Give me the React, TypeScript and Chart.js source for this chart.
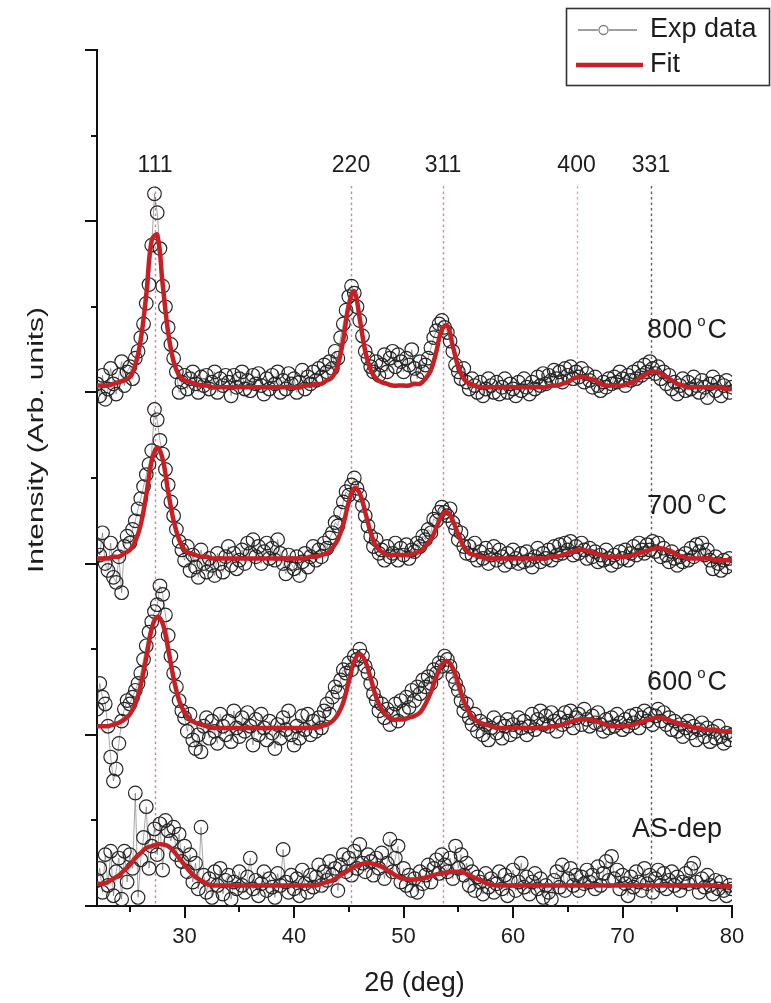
import React, { useEffect, useRef } from 'react';
import { Chart, registerables } from 'chart.js';

Chart.register(...registerables);

// ---- scan grid (2θ, degrees) ----
const EXP_START = 22;
const EXP_STEP = 0.25;
const FIT_START = 22;
const FIT_STEP = 0.5;

// ---- experimental data (intensity, stacked, arb. units) ----
const exp800 = [
  3.05,2.98,3.10,2.96, 3.02,3.14,3.05,2.99, 3.10,3.18,3.04,3.12, 3.15,3.08,3.20,3.24, 3.32,3.40,3.52,3.63,
  3.86,4.16,4.05,3.84, 3.62,3.50,3.38,3.28, 3.20,3.12,3.00,3.06, 3.10,3.02,3.08,3.12, 3.05,3.00,3.09,3.04,
  3.10,3.02,3.06,3.12, 3.00,3.08,3.04,3.10, 3.06,2.98,3.10,3.03, 3.08,3.12,3.02,3.07, 3.01,3.10,3.05,3.11,
  3.04,2.99,3.08,3.02, 3.10,3.05,3.12,3.00, 3.07,3.02,3.11,3.05, 3.08,3.00,3.06,3.13, 3.02,3.09,3.05,3.12,
  3.07,3.14,3.09,3.16, 3.12,3.18,3.14,3.24, 3.20,3.32,3.40,3.48, 3.56,3.62,3.58,3.50, 3.42,3.33,3.24,3.20,
  3.15,3.12,3.18,3.10, 3.16,3.22,3.12,3.20, 3.24,3.15,3.22,3.18, 3.12,3.20,3.16,3.25, 3.14,3.08,3.18,3.12,
  3.16,3.20,3.26,3.32, 3.36,3.40,3.42,3.38, 3.35,3.30,3.24,3.16, 3.12,3.08,3.14,3.06, 3.02,3.08,3.04,3.00,
  3.06,2.98,3.02,3.08, 3.04,3.00,3.06,2.99, 3.03,3.08,3.00,3.05, 3.02,2.98,3.06,3.01, 3.08,3.03,2.99,3.06,
  3.02,3.09,3.04,3.11, 3.05,3.10,3.07,3.13, 3.08,3.12,3.06,3.14, 3.10,3.15,3.08,3.12, 3.09,3.14,3.06,3.11,
  3.07,3.03,3.09,3.04, 3.01,3.06,3.03,3.08, 3.05,3.09,3.06,3.12, 3.08,3.04,3.10,3.07, 3.12,3.08,3.14,3.10,
  3.16,3.12,3.18,3.14, 3.11,3.15,3.08,3.12, 3.05,3.10,3.02,3.06, 2.99,3.04,3.08,3.01, 3.06,3.02,3.09,3.04,
  3.00,3.07,3.03,2.97, 3.05,3.09,3.01,3.06, 2.98,3.04,3.07,3.00, 3.03,
];

const exp700 = [
  2.10,2.05,2.18,2.00, 1.96,2.12,1.92,1.89, 2.04,1.83,2.10,2.16, 2.12,2.20,2.25,2.32, 2.38,2.45,2.52,2.58,
  2.66,2.90,2.84,2.72, 2.64,2.55,2.46,2.36, 2.28,2.20,2.13,2.08, 2.02,2.10,1.96,2.05, 1.98,1.92,2.08,2.00,
  1.95,2.03,1.99,1.93, 2.06,2.00,1.95,2.04, 2.10,1.99,2.06,1.97, 2.02,2.08,2.00,2.12, 2.06,2.14,2.04,2.10,
  2.00,2.07,2.12,2.03, 2.09,2.02,2.14,2.06, 2.00,1.94,2.05,2.00, 1.97,2.04,1.93,2.01, 2.06,1.98,2.04,2.10,
  2.02,2.08,2.04,2.12, 2.09,2.15,2.18,2.24, 2.22,2.30,2.36,2.42, 2.40,2.46,2.50,2.44, 2.40,2.34,2.28,2.22,
  2.16,2.10,2.14,2.06, 2.08,2.02,2.10,2.04, 2.06,2.12,2.02,2.09, 2.05,2.11,2.03,2.08, 2.07,2.12,2.10,2.16,
  2.14,2.20,2.18,2.26, 2.25,2.30,2.33,2.30, 2.28,2.32,2.24,2.20, 2.14,2.18,2.10,2.06, 2.10,2.05,2.12,2.02,
  2.07,2.03,2.09,2.00, 2.05,2.10,2.02,2.08, 2.04,1.99,2.06,2.01, 2.08,2.03,2.00,2.06, 2.01,2.07,2.02,1.98,
  2.04,2.09,2.01,2.06, 2.03,2.08,2.02,2.10, 2.05,2.11,2.06,2.12, 2.08,2.13,2.05,2.10, 2.06,2.12,2.08,2.03,
  2.09,2.04,2.07,2.01, 2.05,2.02,2.08,2.03, 1.99,2.05,2.01,2.07, 2.03,2.08,2.02,2.06, 2.10,2.05,2.12,2.08,
  2.06,2.11,2.08,2.13, 2.07,2.12,2.04,2.09, 2.05,2.01,2.07,2.03, 1.99,2.04,2.01,2.06, 2.02,2.09,2.04,2.11,
  2.07,2.12,2.05,2.08, 2.02,1.97,2.04,2.00, 1.96,2.02,1.98,2.03, 2.00,
];

const exp600 = [
  1.15,1.30,1.22,1.18, 1.05,0.87,0.73,0.80, 0.95,1.08,1.15,1.20, 1.18,1.22,1.26,1.30, 1.36,1.44,1.52,1.60,
  1.66,1.72,1.76,1.87, 1.82,1.70,1.58,1.46, 1.36,1.28,1.20,1.14, 1.10,1.02,1.12,0.97, 0.92,1.00,0.90,1.05,
  1.10,0.98,1.08,1.02, 0.95,1.12,1.05,1.00, 1.08,0.96,1.14,1.04, 0.99,1.10,1.02,1.13, 1.05,0.94,1.09,1.00,
  1.12,1.04,0.97,1.08, 1.01,0.92,1.06,0.98, 1.10,1.03,1.14,1.00, 0.94,1.05,0.98,1.11, 1.03,1.12,1.00,1.08,
  1.02,1.10,1.04,1.14, 1.18,1.12,1.22,1.28, 1.25,1.32,1.38,1.36, 1.42,1.38,1.46,1.44, 1.50,1.46,1.40,1.36,
  1.30,1.24,1.20,1.14, 1.18,1.10,1.15,1.06, 1.12,1.18,1.08,1.20, 1.14,1.22,1.16,1.26, 1.20,1.28,1.24,1.32,
  1.28,1.34,1.30,1.38, 1.36,1.42,1.40,1.46, 1.44,1.40,1.34,1.30, 1.26,1.20,1.14,1.18, 1.10,1.06,1.12,1.02,
  1.08,1.00,1.06,0.97, 1.04,1.10,1.01,1.07, 0.98,1.05,1.09,1.00, 1.06,1.02,1.10,1.04, 1.08,1.00,1.05,1.12,
  1.03,1.09,1.14,1.06, 1.11,1.05,1.13,1.08, 1.02,1.10,1.06,1.13, 1.08,1.14,1.04,1.10, 1.12,1.06,1.15,1.09,
  1.05,1.11,1.07,1.13, 1.06,1.02,1.09,1.04, 1.10,1.05,1.12,1.07, 1.03,1.09,1.05,1.11, 1.07,1.12,1.04,1.10,
  1.14,1.08,1.12,1.06, 1.11,1.15,1.08,1.13, 1.06,1.10,1.03,1.08, 1.02,1.06,0.99,1.04, 1.08,1.01,1.05,0.97,
  1.03,1.07,0.99,1.04, 0.96,1.02,0.98,1.05, 0.99,0.95,1.01,0.97, 1.00,
];

const expAsDep = [
  0.15,0.22,0.08,0.30, 0.12,0.32,0.06,0.20, 0.28,0.04,0.32,0.14, 0.30,0.22,0.66,0.05, 0.27,0.40,0.58,0.22,
  0.35,0.45,0.30,0.48, 0.21,0.50,0.44,0.38, 0.46,0.30,0.42,0.26, 0.35,0.20,0.30,0.14, 0.25,0.10,0.46,0.18,
  0.08,0.16,0.05,0.20, 0.12,0.22,0.07,0.15, 0.18,0.04,0.14,0.10, 0.20,0.12,0.08,0.17, 0.28,0.10,0.15,0.06,
  0.13,0.20,0.09,0.16, 0.11,0.05,0.19,0.12, 0.33,0.14,0.08,0.18, 0.10,0.16,0.06,0.21, 0.13,0.08,0.18,0.11,
  0.17,0.24,0.12,0.20, 0.15,0.26,0.18,0.22, 0.09,0.24,0.30,0.20, 0.28,0.18,0.32,0.22, 0.36,0.25,0.20,0.30,
  0.26,0.18,0.28,0.22, 0.31,0.16,0.25,0.39, 0.20,0.28,0.35,0.14, 0.22,0.12,0.18,0.09, 0.16,0.08,0.20,0.13,
  0.18,0.24,0.14,0.22, 0.27,0.19,0.30,0.24, 0.20,0.28,0.16,0.35, 0.22,0.30,0.18,0.25, 0.12,0.20,0.09,0.17,
  0.14,0.07,0.19,0.11, 0.16,0.08,0.13,0.20, 0.10,0.18,0.06,0.15, 0.21,0.09,0.14,0.25, 0.11,0.17,0.07,0.14,
  0.19,0.10,0.16,0.05, 0.12,0.08,0.04,0.15, 0.20,0.11,0.24,0.09, 0.16,0.22,0.12,0.18, 0.09,0.17,0.13,0.21,
  0.14,0.18,0.10,0.23, 0.12,0.19,0.26,0.15, 0.29,0.16,0.21,0.10, 0.18,0.13,0.06,0.17, 0.11,0.20,0.14,0.09,
  0.22,0.13,0.18,0.08, 0.16,0.21,0.12,0.19, 0.10,0.15,0.20,0.12, 0.17,0.09,0.14,0.19, 0.13,0.22,0.25,0.14,
  0.08,0.16,0.11,0.18, 0.12,0.07,0.15,0.10, 0.14,0.09,0.06,0.12, 0.10,
];

// ---- fitted curves ----
const fit800 = [
  3.04,3.04,3.04,3.05,3.06,3.07,3.09,3.16,3.31,3.57,
  3.89,3.92,3.63,3.35,3.18,3.10,3.07,3.06,3.05,3.04,
  3.04,3.03,3.03,3.03,3.03,3.03,3.03,3.03,3.03,3.03,
  3.03,3.03,3.03,3.03,3.03,3.03,3.03,3.03,3.04,3.04,
  3.05,3.05,3.07,3.09,3.16,3.31,3.51,3.59,3.43,3.24,
  3.13,3.08,3.06,3.05,3.04,3.04,3.04,3.04,3.05,3.05,
  3.08,3.13,3.24,3.37,3.39,3.27,3.15,3.08,3.05,3.04,
  3.03,3.03,3.03,3.03,3.03,3.03,3.03,3.03,3.03,3.03,
  3.03,3.03,3.03,3.04,3.04,3.05,3.06,3.08,3.09,3.09,
  3.08,3.07,3.05,3.04,3.04,3.04,3.04,3.05,3.06,3.08,
  3.10,3.12,3.12,3.11,3.09,3.07,3.05,3.04,3.03,3.03,
  3.03,3.03,3.03,3.03,3.03,3.02,3.02,
];

const fit700 = [
  2.03,2.03,2.03,2.04,2.04,2.06,2.08,2.13,2.23,2.40,
  2.60,2.68,2.61,2.42,2.25,2.14,2.08,2.06,2.05,2.04,
  2.04,2.03,2.03,2.03,2.03,2.03,2.03,2.03,2.03,2.03,
  2.03,2.03,2.03,2.03,2.03,2.03,2.03,2.03,2.03,2.04,
  2.04,2.05,2.06,2.09,2.14,2.23,2.36,2.44,2.41,2.30,
  2.18,2.10,2.07,2.05,2.05,2.05,2.05,2.05,2.06,2.07,
  2.10,2.14,2.21,2.28,2.30,2.25,2.17,2.10,2.06,2.05,
  2.04,2.03,2.03,2.03,2.03,2.03,2.03,2.03,2.03,2.03,
  2.03,2.03,2.03,2.04,2.04,2.05,2.06,2.07,2.08,2.08,
  2.07,2.06,2.05,2.04,2.04,2.04,2.04,2.04,2.05,2.06,
  2.07,2.08,2.09,2.09,2.08,2.07,2.05,2.04,2.03,2.03,
  2.03,2.03,2.03,2.02,2.02,2.02,2.02,
];

const fit600 = [
  1.05,1.05,1.05,1.06,1.07,1.09,1.12,1.18,1.29,1.45,
  1.62,1.69,1.65,1.50,1.33,1.20,1.13,1.09,1.07,1.06,
  1.05,1.04,1.04,1.04,1.04,1.04,1.04,1.04,1.04,1.04,
  1.04,1.04,1.04,1.04,1.04,1.04,1.04,1.04,1.04,1.04,
  1.04,1.05,1.06,1.08,1.12,1.19,1.31,1.43,1.47,1.43,
  1.33,1.22,1.15,1.11,1.09,1.09,1.09,1.10,1.11,1.13,
  1.18,1.25,1.34,1.41,1.43,1.39,1.30,1.20,1.13,1.09,
  1.07,1.06,1.05,1.04,1.04,1.04,1.04,1.04,1.04,1.04,
  1.04,1.04,1.04,1.05,1.05,1.06,1.07,1.08,1.09,1.09,
  1.09,1.08,1.07,1.06,1.05,1.05,1.05,1.05,1.06,1.07,
  1.08,1.09,1.10,1.10,1.09,1.08,1.07,1.06,1.05,1.04,
  1.04,1.03,1.03,1.03,1.02,1.02,1.02,
];

const fitAsDep = [
  0.13,0.13,0.14,0.16,0.18,0.21,0.24,0.28,0.31,0.34,
  0.35,0.36,0.36,0.35,0.32,0.28,0.24,0.20,0.17,0.15,
  0.13,0.12,0.12,0.12,0.12,0.12,0.12,0.12,0.12,0.12,
  0.12,0.12,0.12,0.12,0.12,0.12,0.12,0.12,0.12,0.12,
  0.12,0.13,0.14,0.15,0.17,0.19,0.21,0.23,0.24,0.25,
  0.25,0.24,0.23,0.21,0.19,0.17,0.16,0.155,0.155,0.16,
  0.165,0.175,0.185,0.19,0.195,0.20,0.20,0.195,0.18,0.165,
  0.15,0.135,0.125,0.12,0.12,0.12,0.12,0.12,0.12,0.12,
  0.12,0.12,0.12,0.12,0.12,0.12,0.12,0.12,0.12,0.12,
  0.12,0.12,0.12,0.12,0.12,0.12,0.12,0.12,0.12,0.12,
  0.12,0.12,0.12,0.12,0.12,0.12,0.12,0.12,0.12,0.12,
  0.12,0.12,0.12,0.12,0.115,0.115,0.115,
];

// ---- axes / annotations ----
const xTickValues = [30, 40, 50, 60, 70, 80];
const xMinorTickValues = [25, 35, 45, 55, 65, 75];
const yMajorTickValues = [0, 1, 2, 3, 4, 5];
const yMinorTickValues = [0.5, 1.5, 2.5, 3.5, 4.5];
const peakPositions = [27.3, 45.2, 53.6, 65.8, 72.6];
const peakLabels = ['111', '220', '311', '400', '331'];
const seriesTemps = ['800', '700', '600'];
const asDepLabel = 'AS-dep';

const FONT = '"Liberation Sans", Arial, Helvetica, sans-serif';
const TEXT = '#1c1c1c';
const RED = '#c61f24';
const peakLineColors = ['rgba(205,110,110,0.85)', 'rgba(195,120,120,0.85)', 'rgba(205,120,120,0.85)', 'rgba(230,150,150,0.85)', 'rgba(100,70,70,0.9)'];

const toPts = (arr: number[], start: number, step: number) =>
  arr.map((y, i) => ({ x: +(start + i * step).toFixed(2), y }));

const overlay = {
  id: 'overlay',
  beforeDatasetsDraw(chart: any) {
    const { ctx, chartArea, scales } = chart;
    const xs = scales.x;
    ctx.save();
    ctx.setLineDash([2.5, 3]);
    ctx.lineWidth = 1.4;
    peakPositions.forEach((p, i) => {
      const px = Math.round(xs.getPixelForValue(p)) + 0.5;
      ctx.strokeStyle = peakLineColors[i];
      ctx.beginPath();
      ctx.moveTo(px, 186);
      ctx.lineTo(px, chartArea.bottom);
      ctx.stroke();
    });
    ctx.setLineDash([]);
    ctx.fillStyle = TEXT;
    ctx.font = `23px ${FONT}`;
    ctx.textAlign = 'center';
    ctx.textBaseline = 'middle';
    peakPositions.forEach((p, i) => {
      ctx.fillText(peakLabels[i], xs.getPixelForValue(p), 166);
    });
    ctx.restore();
  },
  afterDraw(chart: any) {
    const { ctx, chartArea, scales } = chart;
    const xs = scales.x;
    const ys = scales.y;
    ctx.save();
    // axis ticks (outward)
    ctx.strokeStyle = '#111';
    ctx.lineWidth = 2;
    const drawX = (v: number, len: number) => {
      const px = Math.round(xs.getPixelForValue(v));
      ctx.beginPath();
      ctx.moveTo(px, chartArea.bottom);
      ctx.lineTo(px, chartArea.bottom + len);
      ctx.stroke();
    };
    xTickValues.forEach((v) => drawX(v, 12));
    xMinorTickValues.forEach((v) => drawX(v, 6));
    const drawY = (v: number, len: number) => {
      const py = Math.round(ys.getPixelForValue(v));
      ctx.beginPath();
      ctx.moveTo(chartArea.left, py);
      ctx.lineTo(chartArea.left - len, py);
      ctx.stroke();
    };
    yMajorTickValues.forEach((v) => drawY(v, 12));
    yMinorTickValues.forEach((v) => drawY(v, 6));

    // y title (stretched along its length)
    ctx.save();
    ctx.translate(43, 440);
    ctx.rotate(-Math.PI / 2);
    ctx.scale(1.36, 1);
    ctx.font = `22px ${FONT}`;
    ctx.fillStyle = TEXT;
    ctx.textAlign = 'center';
    ctx.textBaseline = 'alphabetic';
    ctx.fillText('Intensity (Arb. units)', 0, 0);
    ctx.restore();

    // series labels
    const rightX = 727;
    const labelY = [331, 507, 683];
    seriesTemps.forEach((t, i) => {
      const cy = labelY[i];
      ctx.font = `27px ${FONT}`;
      ctx.fillStyle = TEXT;
      ctx.textBaseline = 'middle';
      ctx.textAlign = 'left';
      const wC = ctx.measureText('C').width;
      const wN = ctx.measureText(t).width;
      ctx.font = `15px ${FONT}`;
      const wD = ctx.measureText('o').width;
      const total = wN + 5 + wD + 2 + wC;
      const x0 = rightX - total;
      ctx.font = `27px ${FONT}`;
      ctx.fillText(t, x0, cy);
      ctx.font = `15px ${FONT}`;
      ctx.fillText('o', x0 + wN + 5, cy - 9);
      ctx.font = `27px ${FONT}`;
      ctx.fillText('C', x0 + wN + 5 + wD + 2, cy);
    });
    ctx.font = `27px ${FONT}`;
    ctx.textAlign = 'right';
    ctx.textBaseline = 'middle';
    ctx.fillText(asDepLabel, 722, 830);

    // legend
    ctx.strokeStyle = '#333';
    ctx.lineWidth = 1.6;
    ctx.strokeRect(566.5, 8.5, 203, 77);
    const r1 = 30;
    const r2 = 65;
    ctx.strokeStyle = '#808080';
    ctx.lineWidth = 1.3;
    ctx.beginPath();
    ctx.moveTo(578, r1);
    ctx.lineTo(598, r1);
    ctx.moveTo(609, r1);
    ctx.lineTo(637, r1);
    ctx.stroke();
    ctx.beginPath();
    ctx.arc(603.5, r1, 4.5, 0, Math.PI * 2);
    ctx.stroke();
    ctx.strokeStyle = RED;
    ctx.lineWidth = 4.5;
    ctx.beginPath();
    ctx.moveTo(576, r2);
    ctx.lineTo(643, r2);
    ctx.stroke();
    ctx.fillStyle = TEXT;
    ctx.font = `27px ${FONT}`;
    ctx.textAlign = 'left';
    ctx.textBaseline = 'middle';
    ctx.fillText('Exp data', 650, r1);
    ctx.fillText('Fit', 650, r2);
    ctx.restore();
  },
};

export default function App() {
  const ref = useRef<HTMLCanvasElement>(null);
  useEffect(() => {
    const canvas = ref.current;
    if (!canvas) return;
    const fitDs = (arr: number[]) => ({
      data: toPts(arr, FIT_START, FIT_STEP),
      borderColor: RED,
      borderWidth: 4.5,
      pointRadius: 0,
      tension: 0.4,
      fill: false,
    });
    const expDs = (arr: number[]) => ({
      data: toPts(arr, EXP_START, EXP_STEP),
      borderColor: 'rgba(70,70,70,0.6)',
      borderWidth: 0.8,
      pointRadius: 6.8,
      pointBorderWidth: 1.2,
      pointBorderColor: '#262626',
      pointBackgroundColor: 'rgba(255,255,255,0)',
      tension: 0,
      fill: false,
    });
    const chart = new Chart(canvas, {
      type: 'line',
      data: {
        datasets: [
          fitDs(fit800), fitDs(fit700), fitDs(fit600), fitDs(fitAsDep),
          expDs(exp800), expDs(exp700), expDs(exp600), expDs(expAsDep),
        ] as any,
      },
      options: {
        responsive: false,
        animation: false,
        devicePixelRatio: 1,
        layout: { padding: { left: 0, right: 39, top: 50, bottom: 0 } },
        plugins: { legend: { display: false }, tooltip: { enabled: false } },
        scales: {
          x: {
            type: 'linear',
            min: 22,
            max: 80,
            grid: { display: false, drawTicks: false },
            border: { display: true, color: '#111', width: 2 },
            ticks: { font: { family: FONT, size: 22 }, color: TEXT, padding: 18 },
            afterBuildTicks: (s: any) => { s.ticks = xTickValues.map((v) => ({ value: v })); },
            afterFit: (s: any) => { s.height = 97; },
            title: {
              display: true,
              text: '2θ (deg)',
              font: { family: FONT, size: 27 },
              color: TEXT,
              padding: { top: 0, bottom: 3 },
            },
          },
          y: {
            type: 'linear',
            min: 0,
            max: 5,
            grid: { display: false, drawTicks: false },
            border: { display: true, color: '#111', width: 2 },
            ticks: { display: false },
            afterFit: (s: any) => { s.width = 97; },
          },
        },
      } as any,
      plugins: [overlay],
    });
    return () => chart.destroy();
  }, []);
  return (
    <div style={{ position: 'absolute', left: 0, top: 0, width: 771, height: 1003, background: '#fff' }}>
      <canvas ref={ref} width={771} height={1003} style={{ display: 'block', width: 771, height: 1003 }} />
    </div>
  );
}
